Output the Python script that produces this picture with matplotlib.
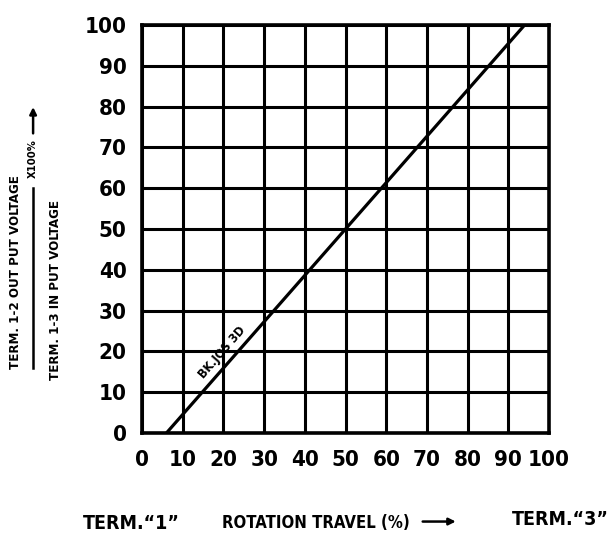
import matplotlib
matplotlib.use("Agg")
import matplotlib.pyplot as plt

plt.rcParams['font.family'] = ['DejaVu Sans']
plt.rcParams['font.stretch'] = 'condensed'
plt.rcParams['font.weight'] = 'bold'

# Data
ticks = [0, 10, 20, 30, 40, 50, 60, 70, 80, 90, 100]
tick_labels = [str(t) for t in ticks]
travel = [6, 94]      # rotation travel (%)
output = [0, 100]     # output voltage ratio (%)
curve_label = "BK.JOS 3D"

fig = plt.figure(figsize=(6.13, 5.49), dpi=100)
ax = fig.add_axes([0.2317, 0.2113, 0.664, 0.7432])

ax.plot(travel, output, color='black', lw=2.3, solid_capstyle='butt')
ax.set_xlim(0, 100)
ax.set_ylim(0, 100)
ax.set_xticks(ticks)
ax.set_yticks(ticks)
ax.set_xticklabels(tick_labels, fontsize=16)
ax.set_yticklabels(tick_labels, fontsize=16)
ax.tick_params(length=0)
ax.tick_params(axis='x', pad=12)
ax.tick_params(axis='y', pad=11)
ax.grid(True, color='black', lw=2.2)
for s in ax.spines.values():
    s.set_linewidth(2.6)

# curve annotation along the line
ax.text(19.8, 19.8, curve_label, rotation=49, fontsize=9, ha='center',
        va='center', rotation_mode='anchor')

# y axis label (fraction)
fig.text(0.026, 0.505, "TERM. 1-2 OUT PUT VOLTAGE", rotation=90,
         fontsize=9.5, ha='center', va='center')
fig.text(0.091, 0.471, "TERM. 1-3 IN PUT VOLTAGE", rotation=90,
         fontsize=9.5, ha='center', va='center')
fig.add_artist(plt.Line2D([0.054, 0.054], [0.33, 0.658], color='black',
                          lw=1.8, transform=fig.transFigure))
fig.text(0.054, 0.712, "X100%", rotation=90, fontsize=8,
         ha='center', va='center')
ax.annotate("", xy=(0.054, 0.81), xytext=(0.054, 0.752),
            xycoords='figure fraction', textcoords='figure fraction',
            arrowprops=dict(arrowstyle='-|>', color='black', lw=1.8,
                            mutation_scale=10))

# x axis labels
fig.text(0.215, 0.047, "TERM.\u201c1\u201d", fontsize=14, ha='center', va='center')
fig.text(0.516, 0.047, "ROTATION TRAVEL (%)", fontsize=12, ha='center',
         va='center')
ax.annotate("", xy=(0.748, 0.05), xytext=(0.685, 0.05),
            xycoords='figure fraction', textcoords='figure fraction',
            arrowprops=dict(arrowstyle='-|>', color='black', lw=1.8,
                            mutation_scale=10))
fig.text(0.914, 0.054, "TERM.\u201c3\u201d", fontsize=14, ha='center',
         va='center')

fig.savefig("out.png", dpi=100)
